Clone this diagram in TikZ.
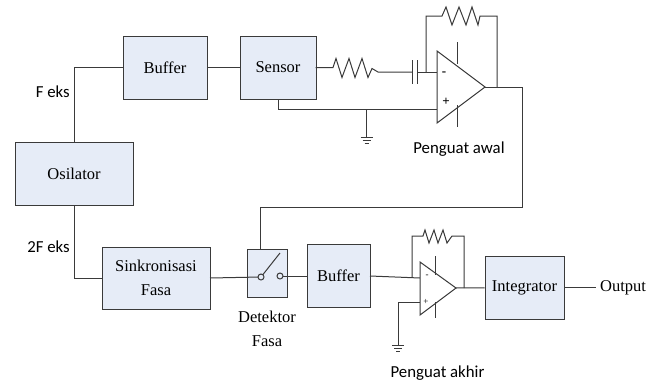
\documentclass[tikz,border=0pt]{standalone}
\usepackage{fontspec}
\setmainfont{Liberation Serif}
\newfontfamily\labelfont{Carlito}
\usepackage{xcolor}
\definecolor{blokfill}{HTML}{E6ECF7}
\definecolor{wirecol}{HTML}{3A3A3A}
\tikzset{
	blok/.style={draw=wirecol,fill=blokfill,line width=1pt,inner sep=0pt,align=center,font=\fontsize{16.5}{24}\selectfont},
	wire/.style={draw=wirecol,line width=1pt},
	teks/.style={inner sep=0pt,align=center,font=\fontsize{16.5}{24}\selectfont},
	label/.style={inner sep=0pt,font=\labelfont\fontsize{16.8}{18}\selectfont},
}
\begin{document}
\begin{tikzpicture}[x=1pt,y=-1pt]
				\useasboundingbox (0,0) rectangle (662,383);
				\node[blok,minimum width=118,minimum height=63](osilator) at (74,173.5){Osilator};
				\node[blok,minimum width=84,minimum height=63](buffera) at (165,67.5){Buffer};
				\node[blok,minimum width=76,minimum height=63](sensor) at (278,67.5){Sensor};
				\node[blok,minimum width=108,minimum height=62](sinkron) at (156,278){Sinkronisasi\\Fasa};
				\node[blok,minimum width=40,minimum height=48](detektor) at (267,273){};
				\node[blok,minimum width=63,minimum height=63](bufferb) at (338.5,275.5){Buffer};
				\node[blok,minimum width=79,minimum height=63](integrator) at (524.5,287.5){Integrator};
				\node[teks](output) at (623,287.5){Output};
				\node[teks](detektorlabel) at (267,329){Detektor\\Fasa};
				\node[label,anchor=east](feks) at (70,92){F eks};
				\node[label,anchor=east](dfeks) at (70,247){2F eks};
				\node[label](awal) at (459,149){Penguat awal};
				\node[label](akhir) at (437.5,373){Penguat akhir};
				\coordinate(opaa) at (437,51);
				\coordinate(opab) at (437,123);
				\coordinate(opac) at (485,87);
				\coordinate(opba) at (420,262);
				\coordinate(opbb) at (420,315);
				\coordinate(opbc) at (456,288);
				\coordinate(cornera) at (74,67.5);
				\coordinate(cornerb) at (74,278);
				\coordinate(sensorout) at (315.5,67.5);
				\coordinate(resa) at (333,67.5);
				\coordinate(resb) at (378,72);
				\coordinate(capa) at (412,72);
				\coordinate(capb) at (417,72);
				\coordinate(inmin) at (437,72);
				\coordinate(fba) at (426,72);
				\coordinate(fbb) at (426,16);
				\coordinate(resc) at (442,16);
				\coordinate(resd) at (480,16);
				\coordinate(fbc) at (497,16);
				\coordinate(fbd) at (497,87);
				\coordinate(outa) at (522,87);
				\coordinate(outb) at (522,207);
				\coordinate(outc) at (260,207);
				\coordinate(outd) at (260,249);
				\coordinate(sensa) at (278,99);
				\coordinate(sensb) at (278,109);
				\coordinate(inplus) at (437,109);
				\coordinate(gnda) at (366.5,109);
				\coordinate(gndb) at (366.5,137);
				\coordinate(swa) at (261,277);
				\coordinate(swb) at (280,276);
				\coordinate(swc) at (280,253);
				\coordinate(sinkout) at (210,278);
				\coordinate(bufbin) at (307,276);
				\coordinate(bufbout) at (370,276);
				\coordinate(inminb) at (420,278);
				\coordinate(fbe) at (412,277);
				\coordinate(fbf) at (412,236);
				\coordinate(rese) at (423,236);
				\coordinate(resf) at (452,236);
				\coordinate(fbg) at (464,236);
				\coordinate(fbh) at (464,288);
				\coordinate(inplusb) at (420,302);
				\coordinate(gndc) at (398,302);
				\coordinate(gndd) at (398,345);
				\coordinate(outend) at (596,287.5);
				\draw[wire] (osilator) -- (cornera) -- (buffera);
				\draw[wire] (buffera) -- (sensor);
				\draw[wire] (osilator) -- (cornerb) -- (sinkron);
				\draw[wire] (integrator) -- (outend);
				\draw[wire] (opbc) -- (integrator);
				\draw[wire] (bufbout) -- (inminb);
				\draw[wire] (swb) -- (bufbin);
				\draw[wire] (sinkout) -- (swa);
				\draw[wire] (swa) -- (swc);
				\draw[wire,fill=blokfill] (swa) circle (3);
				\draw[wire,fill=blokfill] (swb) circle (3);
				\draw[wire] (sensorout) -- (resa) -- ++(3,-9) -- ++(6,19) -- ++(7,-19) -- ++(6,19) -- ++(7,-19) -- ++(6,19) -- ++(4,-9) -- (resb) -- (capa);
				\draw[wire] (capa) +(0,-12) -- +(0,12);
				\draw[wire] (capb) +(0,-12) -- +(0,12);
				\draw[wire] (capb) -- (inmin);
				\draw[wire] (fba) -- (fbb) -- (resc) -- ++(4,-9) -- ++(6,18) -- ++(7,-18) -- ++(7,18) -- ++(6,-18) -- ++(6,18) -- (resd) -- (fbc) -- (fbd);
				\draw[wire] (opac) -- (outa) -- (outb) -- (outc) -- (outd);
				\draw[wire] (sensa) -- (sensb) -- (inplus);
				\draw[wire] (gnda) -- (gndb);
				\draw[wire] (gndb) +(-6,0) -- +(6,0);
				\draw[wire] (gndb) +(-4,3) -- +(4,3);
				\draw[wire] (gndb) +(-2,6) -- +(2,6);
				\draw[wire,fill=white] (opaa) -- (opab) -- (opac) -- cycle;
				\draw[wire] (457,42) -- (457,64);
				\draw[wire] (457,105) -- (457,127);
				\node[teks,font=\fontsize{13}{13}\selectfont\bfseries](mina) at (444,74){-};
				\node[teks,font=\fontsize{13}{13}\selectfont\bfseries](plusa) at (446,102){+};
				\draw[wire] (fbe) -- (fbf) -- (rese) -- ++(2,-6) -- ++(4,13) -- ++(5,-13) -- ++(4,13) -- ++(5,-13) -- ++(4,13) -- ++(5,-7) -- (resf) -- (fbg) -- (fbh);
				\draw[wire] (inplusb) -- (gndc) -- (gndd);
				\draw[wire] (gndd) +(-6,0) -- +(6,0);
				\draw[wire] (gndd) +(-4,3) -- +(4,3);
				\draw[wire] (gndd) +(-2,6) -- +(2,6);
				\draw[wire,fill=white] (opba) -- (opbb) -- (opbc) -- cycle;
				\draw[wire] (435,256) -- (435,275);
				\draw[wire] (435,302) -- (435,318);
				\node[teks,font=\fontsize{9}{9}\selectfont](minb) at (427,276){-};
				\node[teks,font=\fontsize{9}{9}\selectfont](plusb) at (426,302){+};
			\end{tikzpicture}
\end{document}
